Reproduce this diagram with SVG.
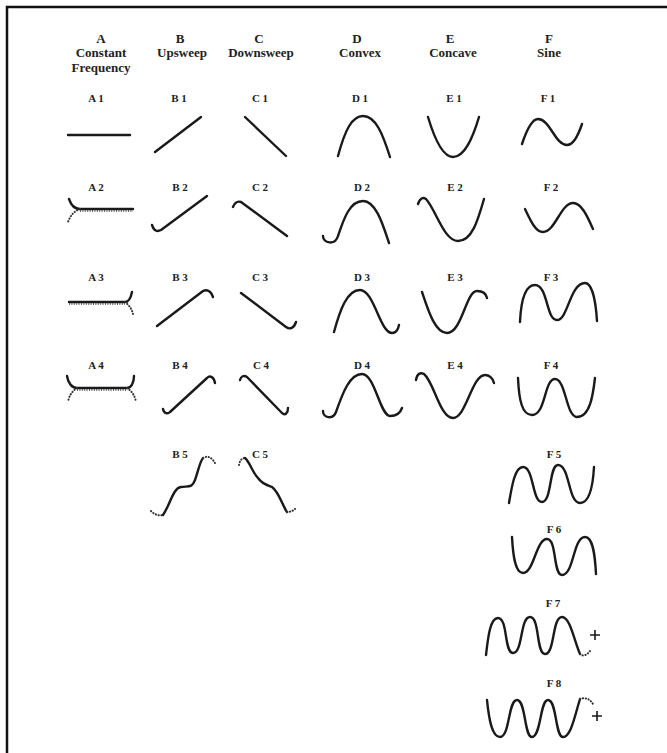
<svg xmlns="http://www.w3.org/2000/svg" width="667" height="753" viewBox="0 0 667 753">
<style>
text{font-family:"Liberation Serif","Times New Roman",serif;font-weight:bold;fill:#222;text-anchor:middle}
.h{font-size:13px}
.s{font-size:11px}
.c{fill:none;stroke:#1a1a1a;stroke-width:2.4;stroke-linecap:round;stroke-linejoin:round}
.d{fill:none;stroke:#333;stroke-width:2;stroke-linecap:round;stroke-dasharray:0.3 2.6}
.t{fill:none;stroke:#333;stroke-width:1.6;stroke-dasharray:1 1.4}
.p{fill:none;stroke:#1a1a1a;stroke-width:1.6}
</style>
<rect width="667" height="753" fill="#fff"/>
<path d="M7,753 V7 H667" fill="none" stroke="#111" stroke-width="2.5"/>
<g id="headers">
<text class="h" x="101" y="43">A</text><text class="h" x="101" y="57">Constant</text><text class="h" x="101" y="72">Frequency</text>
<text class="h" x="180" y="43">B</text><text class="h" x="182" y="57">Upsweep</text>
<text class="h" x="259" y="43">C</text><text class="h" x="261" y="57">Downsweep</text>
<text class="h" x="357" y="43">D</text><text class="h" x="360" y="57">Convex</text>
<text class="h" x="450" y="43">E</text><text class="h" x="453" y="57">Concave</text>
<text class="h" x="549" y="43">F</text><text class="h" x="549" y="57">Sine</text>
</g>
<g id="A1"><text class="s" x="96" y="102">A 1</text><path class="c" d="M68,135 H130"/></g>
<g id="B1"><text class="s" x="179" y="102">B 1</text><path class="c" d="M155,152 L201,117"/></g>
<g id="C1"><text class="s" x="260" y="102">C 1</text><path class="c" d="M245,117 L286,156"/></g>
<g id="D1"><text class="s" x="360" y="102">D 1</text><path class="c" d="M338,156 C345,130 352,116 363,116 C376,116 383,135 390,157"/></g>
<g id="E1"><text class="s" x="454" y="102">E 1</text><path class="c" d="M428,117 C434,137 442,157 453,157 C465,157 473,137 479,117"/></g>
<g id="F1"><text class="s" x="548" y="102">F 1</text><path class="c" d="M522,144 C526,132 532,119 538,119 C550,119 555,145 567,145 C574,145 579,133 582,124"/></g>

<g id="A2"><text class="s" x="96" y="191">A 2</text><path class="c" d="M69,199 C71,205 75,209 80,209 H133"/><path class="t" d="M80,211 H133"/><path class="d" d="M80,209 C74,211 70,216 68,222"/></g>
<g id="B2"><text class="s" x="180" y="191">B 2</text><path class="c" d="M152,225 C154,231 157,232 161,230 L207,196"/></g>
<g id="C2"><text class="s" x="260" y="191">C 2</text><path class="c" d="M233,207 C235,202 238,201 241,202 L287,236"/></g>
<g id="D2"><text class="s" x="362" y="191">D 2</text><path class="c" d="M323,236 C323,243 335,246 338,236 C344,218 350,201 363,201 C376,201 383,225 389,243"/></g>
<g id="E2"><text class="s" x="455" y="191">E 2</text><path class="c" d="M418,204 C420,198 423,197 426,199 C436,210 444,241 458,241 C472,241 478,220 484,199"/></g>
<g id="F2"><text class="s" x="551" y="191">F 2</text><path class="c" d="M525,209 C530,219 535,232 543,232 C555,232 561,203 573,203 C582,203 588,218 593,229"/></g>

<g id="A3"><text class="s" x="96" y="281">A 3</text><path class="c" d="M69,302 H125 C129,302 131,297 132,292"/><path class="t" d="M69,304 H125"/><path class="d" d="M125,302 C129,305 132,309 133,314"/></g>
<g id="B3"><text class="s" x="180" y="281">B 3</text><path class="c" d="M157,326 L203,291 C207,289 211,291 213,297"/></g>
<g id="C3"><text class="s" x="260" y="281">C 3</text><path class="c" d="M241,293 L286,327 C290,330 294,328 296,322"/></g>
<g id="D3"><text class="s" x="362" y="281">D 3</text><path class="c" d="M334,332 C340,310 347,290 360,290 C374,290 380,333 392,333 C396,333 398,330 399,325"/></g>
<g id="E3"><text class="s" x="455" y="281">E 3</text><path class="c" d="M422,292 C428,310 435,333 447,333 C462,333 466,291 477,291 C482,291 486,293 487,298"/></g>
<g id="F3"><text class="s" x="551" y="281">F 3</text><path class="c" d="M520,322 C521,300 525,285 535,285 C548,285 546,320 557,320 C568,320 570,283 585,283 C593,283 596,305 597,321"/></g>

<g id="A4"><text class="s" x="96" y="369">A 4</text><path class="c" d="M67,376 C68,383 72,388 77,388 H127 C131,388 134,383 134,376"/><path class="t" d="M77,390 H127"/><path class="d" d="M77,388 C72,391 69,396 68,402"/><path class="d" d="M127,388 C132,391 135,396 136,402"/></g>
<g id="B4"><text class="s" x="180" y="369">B 4</text><path class="c" d="M163,409 C164,414 168,414 170,412 L207,378 C210,375 214,377 215,383"/></g>
<g id="C4"><text class="s" x="261" y="369">C 4</text><path class="c" d="M240,380 C241,376 244,375 247,377 L282,413 C285,416 288,413 288,408"/></g>
<g id="D4"><text class="s" x="362" y="369">D 4</text><path class="c" d="M323,411 C323,418 333,420 336,412 C343,392 350,374 362,374 C375,374 380,416 390,416 C396,416 400,414 402,408"/></g>
<g id="E4"><text class="s" x="455" y="369">E 4</text><path class="c" d="M416,380 C417,374 420,372 424,374 C434,382 440,418 453,418 C466,418 472,375 485,375 C489,375 493,378 494,383"/></g>
<g id="F4"><text class="s" x="551" y="369">F 4</text><path class="c" d="M518,378 C519,400 522,415 532,415 C546,415 544,379 555,379 C566,379 566,417 577,417 C590,417 593,395 595,378"/></g>

<g id="B5"><text class="s" x="180" y="458">B 5</text><path class="d" d="M151,511 C155,515 159,516 163,515"/><path class="c" d="M163,515 C170,505 173,488 181,487 C189,486 192,488 195,480 C198,472 200,461 203,458"/><path class="d" d="M203,458 C208,455 212,458 215,463"/></g>
<g id="C5"><text class="s" x="260" y="458">C 5</text><path class="d" d="M239,465 C240,460 242,458 245,458"/><path class="c" d="M245,458 C250,462 252,472 258,478 C262,484 267,485 272,487 C279,492 282,505 287,512"/><path class="d" d="M287,512 C290,512 293,511 295,509"/></g>
<g id="F5"><text class="s" x="554" y="458">F 5</text><path class="c" d="M509,503 C512,485 515,467 523,467 C534,467 532,502 542,502 C552,502 549,465 558,465 C570,465 568,503 580,503 C590,503 593,485 594,467"/></g>
<g id="F6"><text class="s" x="554" y="533">F 6</text><path class="c" d="M512,537 C513,555 515,573 523,573 C534,573 536,539 547,539 C557,539 553,575 562,575 C574,575 573,537 585,537 C593,537 595,555 596,574"/></g>
<g id="F7"><text class="s" x="553" y="607">F 7</text><path class="c" d="M486,655 C488,638 490,618 498,618 C508,618 504,653 513,653 C523,653 520,617 530,617 C540,617 536,654 545,654 C555,654 552,617 562,617 C570,617 574,640 580,654"/><path class="d" d="M580,654 C583,657 587,655 590,651"/><path class="p" d="M590,635 H600 M595,630 V640"/></g>
<g id="F8"><text class="s" x="554" y="687">F 8</text><path class="c" d="M487,700 C489,720 492,737 500,737 C510,737 508,700 517,700 C526,700 524,737 532,737 C541,737 540,700 548,700 C557,700 555,737 563,737 C571,737 575,715 580,699"/><path class="d" d="M580,699 C585,697 590,699 593,704"/><path class="p" d="M592,716 H602 M597,711 V721"/></g>
</svg>
